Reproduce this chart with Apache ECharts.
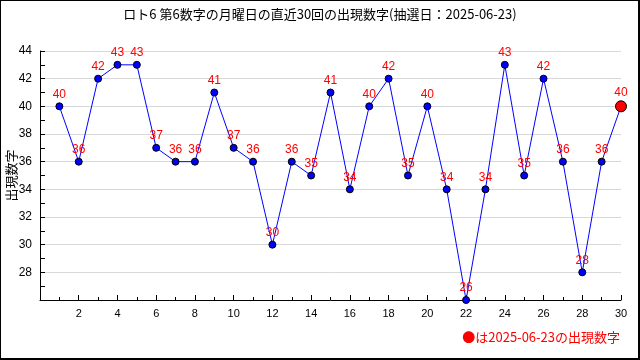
<!DOCTYPE html>
<html>
<head>
<meta charset="utf-8">
<script src="https://cdn.jsdelivr.net/npm/echarts@6/dist/echarts.min.js"></script>
<style>
html,body{margin:0;padding:0;background:#fff;}
#wrap{position:relative;width:640px;height:360px;}
#chart{width:640px;height:360px;}
#frame{position:absolute;left:0;top:0;width:640px;height:360px;box-sizing:border-box;border-top:1px solid #000;border-left:1px solid #000;border-right:2px solid #000;border-bottom:2px solid #000;pointer-events:none;}
</style>
</head>
<body>
<div id="wrap"><div id="chart"></div><div id="frame"></div></div>
<script>
const titleText = 'ロト6 第6数字の月曜日の直近30回の出現数字(抽選日：2025-06-23)';
const yAxisName = '出現数字';
const noteText = '●は2025-06-23の出現数字';
const drawNumbers = [1,2,3,4,5,6,7,8,9,10,11,12,13,14,15,16,17,18,19,20,21,22,23,24,25,26,27,28,29,30];
const values = [40,36,42,43,43,37,36,36,41,37,36,30,36,35,41,34,40,42,35,40,34,26,34,43,35,42,36,28,36,40];

const cjk = '"Noto Sans CJK JP", sans-serif';
const latin = '"Liberation Sans", Arial, sans-serif';

const lastIdx = values.length - 1;
const seriesData = values.map((v, i) => {
  const p = { value: [drawNumbers[i], v] };
  if (i === lastIdx) {
    p.symbolSize = 11;
    p.itemStyle = { color: '#ff0000', borderColor: '#000', borderWidth: 1 };
  }
  return p;
});

const chart = echarts.init(document.getElementById('chart'), null, { renderer: 'canvas' });
chart.setOption({
  animation: false,
  backgroundColor: '#fff',
  title: {
    text: titleText,
    left: 'center',
    top: 3,
    textStyle: { fontFamily: cjk, fontSize: 13, fontWeight: 'normal', color: '#000' }
  },
  grid: { left: 40, right: 19, top: 51, bottom: 60, containLabel: false, outerBoundsMode: 'none' },
  xAxis: {
    type: 'value',
    min: 0, max: 30, interval: 2,
    axisLine: { show: true, onZero: false, lineStyle: { color: '#000', width: 1 } },
    axisTick: { show: true, inside: true, length: 5, lineStyle: { color: '#000' } },
    minorTick: { show: true, splitNumber: 2, length: 3, lineStyle: { color: '#000' } },
    axisLabel: {
      color: '#000', fontFamily: latin, fontSize: 11, margin: 8,
      formatter: v => (v === 0 ? '' : String(v))
    },
    splitLine: { show: false }
  },
  yAxis: {
    type: 'value',
    min: 26, max: 44, interval: 2,
    name: yAxisName,
    nameLocation: 'middle',
    nameGap: 22,
    nameRotate: 90,
    nameMoveOverlap: false,
    nameTextStyle: { fontFamily: cjk, fontSize: 13, color: '#000' },
    axisLine: { show: true, lineStyle: { color: '#000', width: 1 } },
    axisTick: { show: true, inside: true, length: 5, lineStyle: { color: '#000' } },
    minorTick: { show: true, splitNumber: 2, length: 5, lineStyle: { color: '#000' } },
    axisLabel: {
      color: '#000', fontFamily: latin, fontSize: 12, margin: 8,
      formatter: v => (v === 26 ? '' : String(v))
    },
    splitLine: { show: true, lineStyle: { color: '#d8d8d8', width: 1 } }
  },
  series: [{
    type: 'line',
    data: seriesData,
    symbol: 'circle',
    symbolSize: 7,
    lineStyle: { color: '#0000ff', width: 1 },
    itemStyle: { color: '#0000ff', borderColor: '#000', borderWidth: 1 },
    label: {
      show: true, position: 'top', distance: 2,
      color: '#ff0000', fontFamily: latin, fontSize: 12,
      formatter: p => String(p.value[1])
    },
    z: 3
  }],
  graphic: [{
    type: 'text',
    right: 20,
    top: 331,
    style: { text: noteText, fill: '#ff0000', font: '13px ' + cjk }
  }]
});
</script>
</body>
</html>
